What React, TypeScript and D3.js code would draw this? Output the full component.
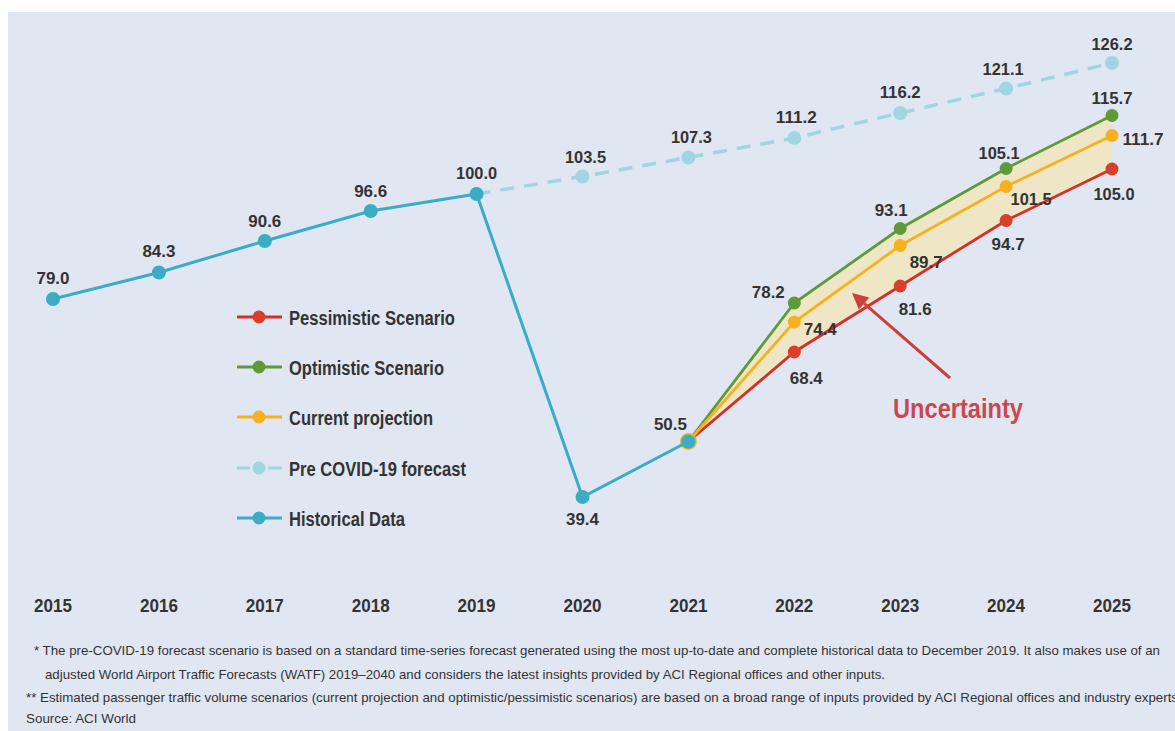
import React from 'react';
import * as d3 from 'd3';

const years = ['2015', '2016', '2017', '2018', '2019', '2020', '2021', '2022', '2023', '2024', '2025'];

const historicalYears = ['2015', '2016', '2017', '2018', '2019', '2020', '2021'];
const historical = [79.0, 84.3, 90.6, 96.6, 100.0, 39.4, 50.5];

const preCovidYears = ['2019', '2020', '2021', '2022', '2023', '2024', '2025'];
const preCovid = [100.0, 103.5, 107.3, 111.2, 116.2, 121.1, 126.2];

const scenarioYears = ['2021', '2022', '2023', '2024', '2025'];
const optimistic = [50.5, 78.2, 93.1, 105.1, 115.7];
const current = [50.5, 74.4, 89.7, 101.5, 111.7];
const pessimistic = [50.5, 68.4, 81.6, 94.7, 105.0];

const legendItems = [
  { label: 'Pessimistic Scenario', key: 'pess' },
  { label: 'Optimistic Scenario', key: 'opt' },
  { label: 'Current projection', key: 'cur' },
  { label: 'Pre COVID-19 forecast', key: 'pre' },
  { label: 'Historical Data', key: 'hist' },
];

const footnotes = [
  '* The pre-COVID-19 forecast scenario is based on a standard time-series forecast generated using the most up-to-date and complete historical data to December 2019. It also makes use of an',
  'adjusted World Airport Traffic Forecasts (WATF) 2019\u20132040 and considers the latest insights provided by ACI Regional offices and other inputs.',
  '** Estimated passenger traffic volume scenarios (current projection and optimistic/pessimistic scenarios) are based on a broad range of inputs provided by ACI Regional offices and industry experts',
  'Source: ACI World',
];

// label offsets (layout only)
const histOff = [[0, -15], [0, -16], [0, -14], [0, -14], [0, -15], [0, 28], [-18, -12]];
const preOff = [null, [3, -14], [3, -15], [2, -15], [0, -15], [-3, -14], [0, -13]];
const optOff = [null, [-26, -5], [-9, -13], [-7, -10], [0, -12]];
const curOff = [null, [26, 13], [26, 22], [25, 18], [31, 9]];
const pessOff = [null, [12, 32], [15, 29], [2, 29], [2, 31]];

const C = {
  hist: '#3aacc5',
  pre: '#9fd6e1',
  pess: '#d3302b',
  pessDot: '#d8402c',
  opt: '#5f9a39',
  cur: '#f5b11f',
  band: '#efe6c6',
  text: '#333333',
  unc: '#c9474f',
  arrow: '#cf3f3a',
  bg: '#e1e7f2',
};

const FONT = '"Liberation Sans", Arial, Helvetica, sans-serif';

export default function App() {
  const x = d3.scalePoint<string>().domain(years).range([53, 1112]);
  const y = d3.scaleLinear().domain([0, 100]).range([694, 194]);

  const line = (ys: string[], vs: number[]) =>
    d3.line<number>().x((_, i) => x(ys[i]) as number).y((v) => y(v))(vs) as string;

  const band = d3
    .area<number>()
    .x((_, i) => x(scenarioYears[i]) as number)
    .y0((_, i) => y(pessimistic[i]))
    .y1((_, i) => y(optimistic[i]))(optimistic.map((_, i) => i)) as string;

  const labels = (ys: string[], vs: number[], off: (number[] | null)[]) =>
    vs.map((v, i) =>
      off[i] ? (
        <text
          key={ys[i] + v}
          x={(x(ys[i]) as number) + off[i]![0]}
          y={y(v) + off[i]![1]}
          textAnchor="middle"
          fontSize={17}
          fontWeight="bold"
          fill={C.text}
          fontFamily={FONT}
          textLength={v >= 100 ? 41 : 33}
          lengthAdjust="spacingAndGlyphs"
        >
          {v.toFixed(1)}
        </text>
      ) : null
    );

  const dots = (ys: string[], vs: number[], color: string, r: number, skipFirst = false) =>
    vs.map((v, i) =>
      skipFirst && i === 0 ? null : (
        <circle key={ys[i] + color} cx={x(ys[i]) as number} cy={y(v)} r={r} fill={color} />
      )
    );

  const legendY = [317, 367, 417, 468, 518];
  const legendWidths = [166, 155, 144, 177, 116];
  const legendColor: Record<string, string> = {
    pess: C.pess,
    opt: C.opt,
    cur: C.cur,
    pre: C.pre,
    hist: C.hist,
  };
  const legendDot: Record<string, string> = {
    pess: C.pessDot,
    opt: C.opt,
    cur: C.cur,
    pre: C.pre,
    hist: C.hist,
  };

  const footY = [655, 679, 702, 723];
  const footX = [34, 45, 26, 26];
  const footW = [1126, 840, 1152, 110];

  // arrow
  const ax1 = 950, ay1 = 378, ax2 = 852, ay2 = 293;
  const ang = Math.atan2(ay2 - ay1, ax2 - ax1);
  const ah = 16, aw = 8;
  const bx = ax2 - ah * Math.cos(ang), by = ay2 - ah * Math.sin(ang);
  const head = [
    [ax2, ay2],
    [bx + aw * Math.sin(ang), by - aw * Math.cos(ang)],
    [bx - aw * Math.sin(ang), by + aw * Math.cos(ang)],
  ]
    .map((p) => p.join(','))
    .join(' ');

  return (
    <svg
      width={1175}
      height={731}
      style={{ position: 'absolute', left: 0, top: 0, display: 'block' }}
      fontFamily={FONT}
    >
      <rect x={0} y={0} width={1175} height={731} fill="#ffffff" />
      <rect x={8} y={12} width={1167} height={719} fill={C.bg} />

      {/* uncertainty band */}
      <path d={band} fill={C.band} />

      {/* pre covid forecast */}
      <path d={line(preCovidYears, preCovid)} fill="none" stroke={C.pre} strokeWidth={3.5} strokeDasharray="14,10" />
      {dots(preCovidYears, preCovid, C.pre, 7, true)}

      {/* scenarios */}
      <path d={line(scenarioYears, pessimistic)} fill="none" stroke={C.pess} strokeWidth={2.8} />
      <path d={line(scenarioYears, optimistic)} fill="none" stroke={C.opt} strokeWidth={2.8} />
      <path d={line(scenarioYears, current)} fill="none" stroke={C.cur} strokeWidth={2.8} />
      <circle cx={x('2021') as number} cy={y(50.5)} r={8.5} fill={C.cur} />
      {dots(scenarioYears, pessimistic, C.pessDot, 6.5, true)}
      {dots(scenarioYears, optimistic, C.opt, 6.5, true)}
      {dots(scenarioYears, current, C.cur, 6.5, true)}

      {/* historical */}
      <path d={line(historicalYears, historical)} fill="none" stroke={C.hist} strokeWidth={3} />
      {dots(historicalYears, historical, C.hist, 7)}

      {/* labels */}
      {labels(historicalYears, historical, histOff)}
      {labels(preCovidYears, preCovid, preOff)}
      {labels(scenarioYears, optimistic, optOff)}
      {labels(scenarioYears, current, curOff)}
      {labels(scenarioYears, pessimistic, pessOff)}

      {/* year axis labels */}
      {years.map((yr) => (
        <text
          key={yr}
          x={x(yr) as number}
          y={612}
          textAnchor="middle"
          fontSize={19}
          fontWeight="bold"
          fill={C.text}
          textLength={38}
          lengthAdjust="spacingAndGlyphs"
        >
          {yr}
        </text>
      ))}

      {/* legend */}
      {legendItems.map((it, i) => {
        const ly = legendY[i];
        const col = legendColor[it.key];
        return (
          <g key={it.key}>
            {it.key === 'pre' ? (
              <>
                <line x1={237} x2={250} y1={ly} y2={ly} stroke={col} strokeWidth={3} />
                <line x1={268} x2={282} y1={ly} y2={ly} stroke={col} strokeWidth={3} />
              </>
            ) : (
              <line x1={237} x2={282} y1={ly} y2={ly} stroke={col} strokeWidth={3} />
            )}
            <circle cx={259} cy={ly} r={6.5} fill={legendDot[it.key]} />
            <text
              x={289}
              y={ly + 7.5}
              fontSize={20}
              fontWeight="bold"
              fill={C.text}
              textLength={legendWidths[i]}
              lengthAdjust="spacingAndGlyphs"
            >
              {it.label}
            </text>
          </g>
        );
      })}

      {/* uncertainty annotation */}
      <line x1={ax1} y1={ay1} x2={bx} y2={by} stroke={C.arrow} strokeWidth={3} />
      <polygon points={head} fill={C.arrow} />
      <text
        x={893}
        y={418}
        fontSize={27}
        fontWeight="bold"
        fill={C.unc}
        textLength={130}
        lengthAdjust="spacingAndGlyphs"
      >
        Uncertainty
      </text>

      {/* footnotes */}
      {footnotes.map((f, i) => (
        <text
          key={i}
          x={footX[i]}
          y={footY[i]}
          fontSize={13}
          fill={C.text}
          textLength={footW[i]}
          lengthAdjust="spacingAndGlyphs"
        >
          {f}
        </text>
      ))}
    </svg>
  );
}
